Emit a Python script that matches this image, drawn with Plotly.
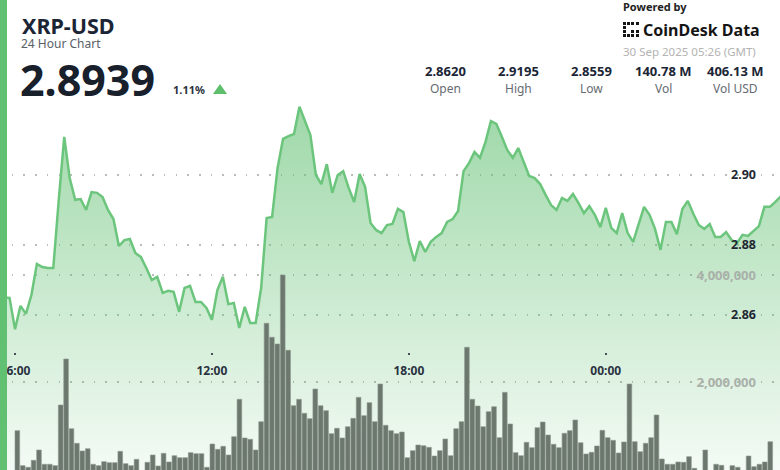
import pandas as pd
import plotly.graph_objects as go

# ---------------- data ----------------
price = [
    2.8651, 2.8651, 2.8649, 2.8559, 2.8626, 2.8603, 2.8657, 2.8746, 2.8737, 2.8734,
    2.8734, 2.8929, 2.9109, 2.8991, 2.8929, 2.8931, 2.8900, 2.8951, 2.8949, 2.8937,
    2.8900, 2.8874, 2.8797, 2.8814, 2.8817, 2.8777, 2.8766, 2.8734, 2.8700, 2.8709,
    2.8663, 2.8669, 2.8666, 2.8609, 2.8677, 2.8683, 2.8637, 2.8637, 2.8620, 2.8586,
    2.8671, 2.8709, 2.8631, 2.8634, 2.8563, 2.8623, 2.8577, 2.8577, 2.8677, 2.8877,
    2.8880, 2.9020, 2.9103, 2.9111, 2.9117, 2.9195, 2.9157, 2.9114, 2.9000, 2.8974,
    2.9031, 2.8949, 2.9000, 2.9011, 2.8963, 2.8923, 2.9003, 2.8966, 2.8863, 2.8843,
    2.8834, 2.8857, 2.8860, 2.8903, 2.8894, 2.8809, 2.8754, 2.8811, 2.8780, 2.8809,
    2.8823, 2.8834, 2.8866, 2.8874, 2.8897, 2.9011, 2.9034, 2.9066, 2.9049, 2.9094,
    2.9154, 2.9146, 2.9109, 2.9071, 2.9049, 2.9077, 2.9037, 2.8997, 2.8991, 2.8974,
    2.8943, 2.8914, 2.8900, 2.8934, 2.8926, 2.8946, 2.8920, 2.8891, 2.8911, 2.8886,
    2.8851, 2.8906, 2.8849, 2.8834, 2.8891, 2.8834, 2.8809, 2.8857, 2.8909, 2.8886,
    2.8846, 2.8786, 2.8866, 2.8866, 2.8831, 2.8903, 2.8926, 2.8889, 2.8857, 2.8846,
    2.8860, 2.8823, 2.8823, 2.8837, 2.8814, 2.8806, 2.8829, 2.8826, 2.8840, 2.8854,
    2.8909, 2.8909, 2.8923, 2.8939,
]

volume_m = [
    0.30, 0.30, 0.30, 1.090, 0.436, 0.406, 0.536, 0.729, 0.462, 0.462,
    0.436, 1.570, 2.430, 1.127, 0.854, 0.710, 0.753, 0.462, 0.436, 0.510,
    0.492, 0.492, 0.705, 0.473, 0.436, 0.555, 0.33, 0.499, 0.636, 0.430,
    0.667, 0.505, 0.622, 0.585, 0.585, 0.679, 0.660, 0.660, 0.406, 0.841,
    0.742, 0.798, 0.636, 0.978, 1.677, 0.953, 0.929, 0.729, 1.258, 3.097,
    2.836, 2.710, 4.000, 2.593, 1.557, 1.677, 1.415, 1.314, 1.869, 1.557,
    1.464, 1.034, 1.135, 0.953, 1.164, 1.321, 1.714, 1.370, 1.613, 1.258,
    1.963, 1.191, 1.090, 1.034, 1.065, 0.585, 0.716, 0.822, 0.809, 0.779,
    0.617, 0.716, 0.935, 0.622, 1.127, 1.258, 2.649, 1.677, 1.551, 1.164,
    1.445, 1.538, 0.959, 1.807, 1.215, 0.679, 0.622, 0.873, 0.772, 1.146,
    1.252, 1.009, 0.836, 0.772, 1.041, 1.090, 1.290, 0.865, 0.654, 0.686,
    0.804, 1.097, 0.959, 0.910, 0.673, 0.879, 1.963, 0.884, 0.697, 0.854,
    0.959, 1.383, 0.561, 0.462, 0.462, 0.505, 0.499, 0.604, 0.387, 0.33,
    0.729, 0.33, 0.462, 0.443, 0.33, 0.436, 0.406, 0.33, 0.617, 0.417,
    0.462, 0.505, 0.884, 0.30,
]
volume = [v * 1_000_000 for v in volume_m]

times = pd.date_range("2025-09-29 05:30", periods=len(price), freq="10min")

x_tick_times = ["2025-09-29 06:00", "2025-09-29 12:00", "2025-09-29 18:00", "2025-09-30 00:00"]
x_tick_labels = ["06:00", "12:00", "18:00", "00:00"]
price_ticks = [2.86, 2.88, 2.90]
volume_ticks = [2_000_000, 4_000_000]

symbol = "XRP-USD"
subtitle = "24 Hour Chart"
last_price = "2.8939"
change_pct = "1.11%"
stat_values = ["2.8620", "2.9195", "2.8559", "140.78 M", "406.13 M"]
stat_labels = ["Open", "High", "Low", "Vol", "Vol USD"]
timestamp = "30 Sep 2025 05:26 (GMT)"

# ---------------- figure ----------------
W, H = 780, 470
GREEN = "#62c072"
LINE = "#6cc57c"
FONT = "Noto Sans"


def px(x):
    return x / W


def py(y):
    return 1 - y / H


fig = go.Figure()

fig.add_trace(go.Scatter(
    x=times, y=price, mode="lines",
    line=dict(color=LINE, width=2.5),
    fill="tozeroy",
    fillgradient=dict(
        type="vertical",
        start=2.8157, stop=2.92,
        colorscale=[[0, "rgba(98,192,114,0.07)"], [1, "rgba(98,192,114,0.62)"]],
    ),
    hoverinfo="skip", xaxis="x", yaxis="y",
))

fig.add_trace(go.Bar(
    x=times, y=volume,
    marker=dict(color="#6c786e", line=dict(color="#8e9890", width=0.6)),
    width=0.86 * 600000,
    hoverinfo="skip", xaxis="x2", yaxis="y2",
))

grid_common = dict(showgrid=True, gridcolor="#b9bdb9", gridwidth=1.6, griddash="1.6px,10.1px",
                   zeroline=False, showline=False, automargin=False)

fig.update_layout(
    width=W, height=H,
    margin=dict(l=0, r=0, t=0, b=0, pad=0),
    paper_bgcolor="white", plot_bgcolor="white",
    showlegend=False,
    font=dict(family=FONT),
    bargap=0.14,
    xaxis=dict(
        type="date", domain=[0, 1],
        range=["2025-09-29 05:32:35", "2025-09-30 05:18:30"],
        tickvals=x_tick_times, ticktext=x_tick_labels,
        ticks="outside", ticklen=2, tickwidth=2, tickcolor="#4a4f57",
        tickfont=dict(size=12, color="#2a3240", weight="bold", family=FONT),
        anchor="free", position=(H - 352) / H,
        showgrid=False, zeroline=False, showline=False, automargin=False,
        ticklabelstandoff=6, ticklabeloverflow="allow",
    ),
    xaxis2=dict(
        type="date", overlaying="x",
        range=["2025-09-29 05:28", "2025-09-30 05:28"],
        showticklabels=False, showgrid=False, zeroline=False, showline=False,
        anchor="y2", automargin=False,
    ),
    yaxis=dict(
        domain=[0, 1], side="right",
        range=[2.8157, 2.95],
        tickvals=price_ticks, ticktext=[f"{v:.2f}" for v in price_ticks],
        ticklabelposition="inside", ticklabelstandoff=21,
        tickfont=dict(size=12.5, color="#1f2733", weight="bold", family=FONT),
        ticks="", **grid_common,
    ),
    yaxis2=dict(
        overlaying="y", side="right",
        range=[355140, 9140187],
        tickvals=volume_ticks, ticktext=[f"{v:,}" for v in volume_ticks],
        ticklabelposition="inside", ticklabelstandoff=21,
        tickfont=dict(size=13, color="#aab0aa", weight="bold", family=FONT),
        ticks="", **grid_common,
    ),
)

ann = []


def text(x, y, s, size, color, weight="normal", xanchor="left", height=None):
    a = dict(x=px(x), y=py(y), xref="paper", yref="paper", text=s, showarrow=False,
             xanchor=xanchor, yanchor="middle",
             font=dict(size=size, color=color, family=FONT, weight=weight))
    if height is not None:
        a["height"] = height
        a["valign"] = "middle"
        a["borderpad"] = 0
    ann.append(a)


text(21, 25, symbol, 21.5, "#1b2535", "bold", height=18)
text(20, 43.5, subtitle, 12, "#5a6068", height=11)
text(19, 79, last_price, 43, "#18202c", "bold", height=34)
text(171, 89, change_pct, 11, "#2d3440", "bold")

centers = [445, 518, 591, 663, 735]
for c, v, l in zip(centers, stat_values, stat_labels):
    text(c, 71, v, 13, "#1b2535", "bold", "center")
    text(c, 88, l, 12, "#666b72", "normal", "center")

text(621, 7, "Powered by", 11, "#222222", "bold")
text(641, 30, "CoinDesk Data", 16, "#151515", "bold")
text(621, 52, timestamp, 11.5, "#b3b3b3")

fig.update_layout(annotations=ann)

shapes = [
    # left accent bar
    dict(type="rect", xref="paper", yref="paper", x0=0, x1=px(7), y0=0, y1=1,
         fillcolor=GREEN, line=dict(width=0), layer="above"),
    # change triangle
    dict(type="path", xref="paper", yref="paper",
         path=f"M {px(213)} {py(94)} L {px(227)} {py(94)} L {px(220)} {py(84)} Z",
         fillcolor="#5dbe6c", line=dict(width=0), layer="above"),
]
# CoinDesk logo glyph
logo = [(623, 22), (627, 22), (631, 22), (636, 22), (623, 26), (623, 30), (631, 30),
        (636, 30), (623, 34), (627, 34), (631, 34), (636, 34)]
for (lx, ly) in logo:
    shapes.append(dict(type="rect", xref="paper", yref="paper",
                       x0=px(lx), x1=px(lx + 3), y0=py(ly + 3), y1=py(ly),
                       fillcolor="#151515", line=dict(width=0), layer="above"))
fig.update_layout(shapes=shapes)

fig.write_html("out.html", config={"displayModeBar": False},
               post_script="document.body.style.margin='0';document.body.style.overflow='hidden';")
